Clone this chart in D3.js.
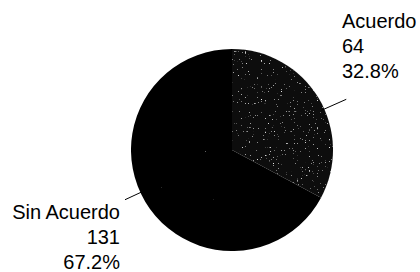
<!DOCTYPE html>
<html>
<head>
<meta charset="utf-8">
<script src="https://cdn.jsdelivr.net/npm/d3@7/dist/d3.min.js"></script>
<style>
  html, body { margin: 0; padding: 0; background: #fff; }
  svg text { font-family: "Liberation Sans", Arial, sans-serif; font-size: 20px; fill: #000; }
</style>
</head>
<body>
<svg id="chart" width="420" height="272"></svg>
<script>
const labels = ['Acuerdo', 'Sin Acuerdo'];
const counts = [64, 131];
const percents = ['32.8%', '67.2%'];

const width = 420, height = 272;
const cx = 232, cy = 150, radius = 101;

const svg = d3.select('#chart');
const defs = svg.append('defs');

// speckled print texture, denser on the lighter slice
function speckle(id, cut, seed, freq) {
  const f = defs.append('filter').attr('id', id)
    .attr('x', 0).attr('y', 0).attr('width', 1).attr('height', 1);
  f.append('feTurbulence').attr('type', 'fractalNoise')
    .attr('baseFrequency', freq).attr('numOctaves', 1).attr('seed', seed).attr('result', 'n');
  f.append('feColorMatrix').attr('in', 'n').attr('type', 'matrix')
    .attr('values', `0 0 0 0 0.8  0 0 0 0 0.8  0 0 0 0 0.8  8 0 0 0 ${-8 * cut}`).attr('result', 'w');
  f.append('feComposite').attr('in', 'w').attr('in2', 'SourceGraphic').attr('operator', 'in').attr('result', 'ws');
  const m = f.append('feMerge');
  m.append('feMergeNode').attr('in', 'SourceGraphic');
  m.append('feMergeNode').attr('in', 'ws');
}
speckle('speckA', 0.685, 4, 0.75);
speckle('speckB', 0.82, 9, 0.75);

const fills = ['#111', '#000'];
const filters = ['url(#speckA)', 'url(#speckB)'];

const pie = d3.pie().sort(null).value(d => d)(counts);
const arc = d3.arc().innerRadius(0).outerRadius(radius);

const g = svg.append('g').attr('transform', `translate(${cx},${cy})`);

g.selectAll('path.slice')
  .data(pie)
  .join('path')
  .attr('class', 'slice')
  .attr('d', arc)
  .attr('fill', (d, i) => fills[i])
  .attr('filter', (d, i) => filters[i]);

// leader lines
const tilt = [7, 6];
g.selectAll('line.leader')
  .data(pie)
  .join('line')
  .attr('class', 'leader')
  .each(function (d, i) {
    const a = (d.startAngle + d.endAngle) / 2 + tilt[i] * Math.PI / 180;
    const r0 = radius - 3, r1 = radius + (i === 0 ? 24 : 17);
    d3.select(this)
      .attr('x1', r0 * Math.sin(a)).attr('y1', -r0 * Math.cos(a))
      .attr('x2', r1 * Math.sin(a)).attr('y2', -r1 * Math.cos(a));
  })
  .attr('stroke', '#000')
  .attr('stroke-width', 1);

// labels
const labelPos = [
  { x: 342, y: 28, anchor: 'start' },
  { x: 120, y: 219, anchor: 'end' }
];
const lineGap = 25;

labels.forEach((name, i) => {
  const t = svg.append('text')
    .attr('x', labelPos[i].x)
    .attr('y', labelPos[i].y)
    .attr('text-anchor', labelPos[i].anchor);
  [name, String(counts[i]), percents[i]].forEach((s, k) => {
    t.append('tspan')
      .attr('x', labelPos[i].x)
      .attr('dy', k === 0 ? 0 : lineGap)
      .text(s);
  });
});
</script>
</body>
</html>
